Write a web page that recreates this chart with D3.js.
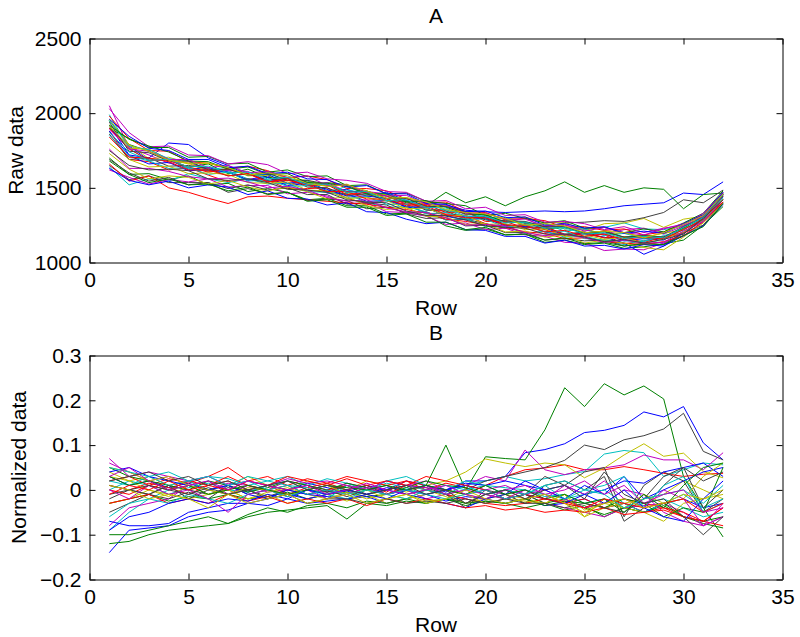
<!DOCTYPE html>
<html><head><meta charset="utf-8">
<script src="https://cdn.jsdelivr.net/npm/d3@7"></script>
<style>
html,body{margin:0;padding:0;background:#fff;}
text{font-family:"Liberation Sans",Arial,Helvetica,sans-serif;fill:#000;}
</style></head>
<body>
<svg id="chart" width="800" height="637"></svg>
<script>
const rows = [1,2,3,4,5,6,7,8,9,10,11,12,13,14,15,16,17,18,19,20,21,22,23,24,25,26,27,28,29,30,31,32];
const xTicks = [0,5,10,15,20,25,30,35];
const yTicksA = [1000,1500,2000,2500];
const yTicksB = [-0.2,-0.1,0,0.1,0.2,0.3];
const lineColors = ["#0000ff","#008000","#ff0000","#00bfbf","#bf00bf","#bfbf00","#404040"];

const rawData = [
[1900,1780,1685,1690,1625,1635,1605,1555,1580,1530,1545,1480,1490,1445,1470,1415,1375,1385,1350,1340,1335,1340,1345,1340,1345,1360,1380,1390,1400,1465,1455,1540],
[1950,1790,1745,1685,1640,1660,1595,1625,1570,1565,1515,1535,1520,1460,1445,1400,1380,1470,1400,1440,1380,1440,1480,1540,1470,1515,1470,1500,1490,1360,1455,1465],
[1880,1690,1675,1620,1635,1585,1540,1560,1550,1495,1495,1500,1430,1395,1415,1390,1330,1325,1315,1260,1230,1245,1220,1180,1195,1185,1125,1145,1170,1190,1300,1405],
[1990,1765,1680,1690,1630,1615,1615,1560,1540,1550,1540,1475,1485,1465,1410,1410,1355,1355,1300,1315,1275,1265,1260,1210,1225,1235,1265,1225,1220,1245,1305,1460],
[2050,1770,1720,1665,1675,1610,1615,1610,1545,1565,1520,1535,1475,1475,1460,1390,1400,1375,1320,1320,1265,1300,1230,1250,1220,1190,1220,1230,1190,1245,1310,1445],
[1960,1790,1695,1705,1665,1610,1630,1580,1585,1525,1540,1525,1465,1450,1455,1405,1370,1380,1325,1330,1290,1305,1265,1270,1215,1260,1265,1295,1235,1290,1310,1455],
[1650,1555,1580,1535,1535,1535,1470,1495,1460,1470,1415,1425,1415,1360,1370,1335,1340,1285,1290,1260,1230,1260,1240,1265,1270,1280,1275,1300,1335,1420,1400,1485],
[1920,1720,1700,1800,1790,1700,1650,1585,1590,1530,1535,1465,1460,1410,1415,1375,1370,1310,1285,1300,1250,1245,1205,1180,1200,1190,1145,1160,1150,1225,1285,1440],
[1700,1590,1595,1555,1580,1520,1530,1475,1495,1470,1420,1430,1380,1380,1325,1330,1315,1245,1215,1225,1185,1190,1135,1150,1120,1130,1095,1105,1125,1150,1250,1375],
[1980,1830,1750,1745,1675,1665,1630,1645,1615,1565,1580,1555,1495,1495,1480,1425,1400,1405,1340,1335,1285,1295,1280,1235,1240,1215,1225,1185,1205,1260,1315,1465],
[1640,1520,1560,1545,1595,1560,1535,1560,1525,1530,1475,1470,1460,1400,1370,1375,1340,1285,1295,1240,1240,1195,1210,1170,1175,1145,1120,1150,1130,1195,1285,1400],
[1620,1570,1525,1555,1540,1560,1505,1515,1515,1460,1470,1445,1395,1400,1340,1335,1310,1255,1265,1220,1230,1185,1175,1135,1130,1080,1090,1085,1130,1175,1270,1395],
[1920,1765,1760,1690,1660,1665,1640,1585,1610,1560,1550,1510,1525,1465,1425,1435,1385,1380,1335,1290,1295,1245,1260,1225,1230,1185,1200,1170,1195,1220,1330,1455],
[1690,1600,1545,1570,1520,1535,1495,1520,1485,1500,1455,1455,1390,1400,1385,1325,1295,1300,1245,1250,1200,1200,1150,1160,1145,1150,1110,1130,1120,1200,1250,1405],
[1880,1715,1660,1670,1615,1620,1605,1550,1570,1515,1530,1490,1445,1445,1430,1370,1365,1315,1310,1295,1245,1240,1230,1185,1190,1170,1130,1055,1110,1200,1280,1420],
[1900,1830,1770,1770,1705,1710,1660,1665,1605,1620,1575,1580,1515,1520,1460,1465,1410,1395,1380,1315,1330,1295,1265,1280,1230,1235,1200,1225,1205,1265,1330,1480],
[1660,1545,1580,1500,1470,1430,1395,1440,1445,1430,1420,1410,1400,1390,1370,1355,1330,1290,1275,1255,1235,1205,1195,1160,1165,1140,1130,1120,1140,1180,1275,1405],
[1950,1780,1755,1695,1680,1620,1640,1585,1595,1550,1550,1470,1510,1455,1465,1410,1410,1345,1340,1300,1305,1250,1260,1225,1225,1180,1195,1160,1170,1200,1305,1425],
[2030,1870,1775,1780,1720,1715,1660,1675,1655,1595,1605,1560,1550,1530,1475,1470,1410,1415,1360,1370,1315,1320,1270,1275,1260,1220,1240,1200,1230,1250,1330,1470],
[1730,1625,1560,1580,1570,1525,1550,1505,1480,1505,1475,1425,1440,1380,1355,1370,1310,1305,1255,1260,1205,1210,1170,1185,1130,1150,1130,1100,1085,1170,1265,1395],
[1860,1690,1700,1645,1650,1630,1580,1595,1550,1565,1505,1500,1450,1460,1415,1410,1350,1345,1290,1310,1255,1235,1240,1190,1205,1165,1170,1165,1165,1235,1300,1455],
[1630,1550,1520,1545,1500,1520,1505,1455,1480,1430,1425,1385,1400,1340,1335,1290,1260,1270,1220,1215,1175,1175,1130,1150,1110,1115,1090,1120,1110,1180,1245,1390],
[1920,1825,1780,1740,1680,1675,1625,1640,1590,1595,1535,1530,1510,1460,1460,1405,1415,1370,1325,1320,1270,1270,1225,1235,1200,1205,1170,1180,1170,1230,1305,1445],
[1900,1760,1685,1685,1640,1605,1625,1595,1540,1560,1515,1520,1455,1470,1445,1390,1390,1335,1340,1275,1275,1230,1240,1185,1195,1165,1170,1135,1170,1200,1300,1420],
[1850,1715,1680,1630,1635,1590,1605,1545,1555,1510,1515,1480,1430,1440,1390,1390,1325,1335,1290,1290,1235,1255,1205,1210,1160,1150,1145,1140,1180,1215,1305,1435],
[1890,1760,1745,1690,1690,1635,1650,1600,1610,1570,1580,1515,1520,1470,1445,1450,1390,1385,1330,1330,1290,1290,1245,1255,1210,1235,1200,1185,1225,1260,1310,1455],
[1800,1690,1640,1645,1595,1600,1590,1535,1530,1540,1485,1480,1430,1435,1415,1360,1365,1315,1315,1255,1260,1220,1225,1175,1185,1155,1170,1125,1160,1205,1280,1425],
[1940,1745,1735,1680,1680,1620,1625,1585,1600,1550,1550,1525,1470,1480,1430,1430,1375,1375,1340,1285,1280,1275,1240,1240,1195,1210,1170,1180,1170,1240,1300,1455],
[1960,1845,1765,1750,1690,1690,1635,1645,1595,1605,1560,1555,1505,1515,1460,1460,1395,1390,1340,1345,1300,1305,1250,1260,1230,1240,1195,1210,1195,1260,1320,1470],
[1680,1590,1535,1560,1520,1525,1480,1505,1455,1470,1410,1420,1370,1370,1315,1325,1270,1270,1220,1235,1185,1190,1150,1165,1125,1135,1110,1125,1120,1180,1240,1395],
[1840,1705,1700,1675,1620,1620,1580,1595,1540,1550,1520,1475,1475,1425,1425,1380,1380,1320,1300,1300,1250,1250,1205,1215,1175,1190,1155,1170,1160,1220,1290,1450],
[1870,1740,1685,1690,1640,1645,1600,1605,1560,1570,1520,1525,1470,1475,1415,1420,1370,1365,1310,1310,1265,1270,1230,1235,1190,1200,1160,1175,1165,1235,1300,1455],
[1760,1630,1630,1610,1575,1560,1565,1540,1500,1510,1485,1435,1410,1420,1365,1340,1335,1300,1250,1255,1245,1200,1180,1190,1165,1135,1150,1130,1135,1210,1275,1420],
[1910,1785,1745,1685,1665,1665,1635,1585,1600,1580,1530,1510,1520,1480,1430,1435,1405,1355,1335,1325,1295,1250,1260,1245,1200,1210,1200,1165,1200,1255,1315,1460],
[1750,1650,1620,1625,1615,1560,1550,1560,1535,1490,1485,1470,1420,1405,1400,1345,1315,1315,1285,1245,1235,1230,1190,1190,1170,1140,1155,1130,1155,1190,1295,1420]
];

const normData = [
[0.030,0.010,0.020,0.005,0.015,0.000,0.010,-0.005,0.010,0.000,0.015,0.005,-0.005,0.010,0.000,0.020,0.010,-0.005,0.020,0.020,0.030,0.083,0.090,0.103,0.128,0.133,0.144,0.174,0.163,0.186,0.105,0.067],
[-0.030,-0.020,-0.010,-0.025,-0.015,-0.020,-0.010,-0.020,-0.015,-0.005,-0.020,-0.010,-0.005,-0.015,-0.010,0.000,0.010,0.100,0.000,0.074,0.070,0.067,0.134,0.228,0.186,0.237,0.212,0.232,0.203,0.030,-0.040,-0.105],
[0.010,0.000,0.015,0.005,-0.010,0.010,0.020,0.000,0.010,-0.010,0.005,0.015,0.000,0.010,-0.005,0.020,0.010,0.000,-0.010,0.010,0.030,0.045,0.049,0.056,0.045,0.045,0.052,0.045,0.037,0.030,0.035,0.037],
[0.000,0.020,0.010,-0.010,0.005,0.015,0.000,-0.005,0.010,0.020,0.000,-0.010,0.010,0.000,0.015,0.005,-0.010,0.000,0.010,0.020,0.030,0.020,0.025,0.034,0.041,0.080,0.088,0.083,0.030,0.045,0.060,0.056],
[0.060,0.040,0.020,0.030,0.010,0.020,-0.010,0.010,0.000,0.020,0.010,-0.005,0.015,0.005,0.000,0.010,0.020,0.000,0.010,0.030,0.020,0.089,0.045,0.034,0.045,0.049,0.056,0.078,0.067,0.067,0.045,0.083],
[0.040,0.020,0.030,0.010,0.020,0.000,0.010,0.030,0.010,0.000,0.020,0.010,0.000,0.020,0.010,-0.005,0.010,0.020,0.040,0.069,0.060,0.052,0.060,0.056,0.027,0.049,0.078,0.103,0.075,0.082,0.041,0.027],
[-0.020,0.000,-0.010,0.010,0.000,-0.010,0.005,0.000,-0.015,0.000,0.010,-0.005,0.000,0.010,-0.010,0.000,0.010,-0.010,0.000,0.020,0.030,0.040,0.050,0.066,0.100,0.090,0.112,0.121,0.136,0.171,0.086,0.067],
[-0.140,-0.090,-0.085,-0.080,-0.060,-0.050,-0.045,-0.030,-0.035,-0.020,-0.030,-0.025,-0.020,-0.015,-0.030,-0.020,-0.010,-0.025,-0.015,-0.020,-0.030,-0.020,-0.035,-0.030,-0.020,-0.040,-0.030,-0.050,-0.030,-0.020,-0.040,-0.030],
[-0.120,-0.115,-0.100,-0.090,-0.085,-0.080,-0.075,-0.060,-0.050,-0.045,-0.040,-0.035,-0.065,-0.030,-0.035,-0.025,-0.030,-0.020,-0.035,-0.025,-0.030,-0.040,-0.030,-0.045,-0.035,-0.060,-0.040,-0.050,-0.035,-0.060,-0.075,-0.085],
[0.020,0.030,0.010,0.025,0.015,0.030,0.050,0.020,0.030,0.010,0.025,0.015,0.030,0.020,0.010,0.020,0.000,0.015,0.005,-0.010,0.000,-0.020,-0.010,-0.030,-0.020,-0.040,-0.030,-0.050,-0.040,-0.060,-0.070,-0.080],
[-0.090,-0.050,-0.020,0.000,0.020,0.030,0.025,0.010,0.020,0.030,0.010,0.025,0.015,0.000,0.020,0.030,0.010,0.000,0.020,0.010,-0.010,0.000,-0.015,-0.010,-0.030,-0.020,-0.040,-0.030,-0.020,-0.040,-0.060,-0.050],
[-0.080,-0.040,-0.030,-0.020,0.010,0.000,0.015,0.010,-0.005,0.000,0.010,0.000,-0.010,0.005,-0.010,0.000,-0.020,-0.010,-0.020,-0.030,-0.020,-0.010,-0.030,-0.040,-0.050,-0.060,-0.040,-0.035,-0.030,-0.050,-0.080,-0.060],
[0.030,0.020,0.000,-0.010,-0.020,-0.010,0.000,-0.020,-0.010,-0.030,-0.020,-0.010,-0.025,-0.010,-0.030,-0.020,-0.010,0.000,-0.010,-0.020,-0.010,-0.030,-0.020,-0.030,-0.060,-0.040,-0.030,-0.020,-0.010,0.020,0.000,-0.020],
[-0.050,-0.030,-0.010,-0.020,-0.005,-0.020,0.010,-0.010,0.000,-0.015,0.000,-0.005,0.010,-0.010,0.000,0.010,0.005,-0.010,-0.030,-0.010,0.000,-0.010,0.030,0.010,0.040,0.050,-0.060,0.010,0.040,0.020,-0.050,-0.020],
[-0.070,-0.080,-0.080,-0.075,-0.050,-0.040,-0.030,-0.030,-0.020,-0.010,-0.020,-0.010,0.000,-0.010,0.005,0.000,0.010,0.000,0.015,0.010,0.020,0.010,0.000,0.010,-0.010,0.000,0.020,0.015,0.040,0.050,0.060,0.030],
[0.050,0.030,0.020,0.010,0.000,0.020,0.010,-0.005,0.005,0.020,0.010,0.000,0.015,0.005,-0.010,0.005,0.020,0.010,0.005,-0.010,-0.020,-0.010,-0.030,-0.020,-0.040,-0.055,-0.040,-0.050,-0.030,-0.060,-0.070,-0.060],
[0.000,-0.010,0.010,0.000,0.020,0.010,0.030,0.010,0.000,0.010,-0.010,0.000,0.010,0.000,-0.010,0.010,0.000,-0.010,-0.020,-0.030,-0.035,-0.030,-0.020,-0.025,-0.040,-0.030,-0.020,-0.030,-0.040,-0.050,-0.070,-0.040],
[0.020,0.010,0.030,0.010,0.020,0.000,0.010,0.030,0.020,0.010,0.005,-0.020,0.010,0.000,0.020,0.010,0.000,0.010,0.000,0.010,0.005,0.000,-0.010,-0.020,-0.010,0.000,-0.030,-0.050,-0.030,-0.010,-0.040,-0.020],
[0.070,0.030,0.040,0.030,0.020,0.030,0.010,0.020,0.010,0.025,0.015,0.020,0.010,0.000,0.020,0.010,0.005,0.000,-0.010,0.000,0.010,-0.010,0.000,-0.020,-0.040,-0.030,0.000,-0.010,-0.050,-0.070,-0.080,-0.060],
[-0.030,-0.020,0.000,-0.015,0.010,-0.010,0.000,-0.020,-0.005,0.005,-0.010,-0.020,-0.005,-0.020,-0.010,-0.020,0.000,-0.015,-0.030,-0.020,-0.010,-0.020,-0.030,-0.010,-0.045,-0.030,-0.040,-0.050,-0.070,-0.030,-0.020,-0.010],
[0.010,0.000,-0.010,0.010,-0.020,0.000,-0.010,0.000,0.010,0.000,-0.010,0.000,-0.015,0.000,0.010,-0.010,0.000,-0.010,-0.040,0.000,-0.010,-0.030,0.010,0.020,0.000,0.030,-0.070,-0.040,0.010,0.050,-0.040,0.000],
[0.040,0.050,0.030,0.020,0.010,0.000,0.010,-0.010,-0.020,0.000,-0.010,-0.015,-0.020,-0.010,0.000,-0.010,-0.020,-0.030,-0.040,-0.020,-0.010,0.020,0.000,-0.020,0.010,-0.010,0.030,-0.020,0.000,0.020,0.040,0.050],
[-0.100,-0.100,-0.090,-0.080,-0.070,-0.060,-0.075,-0.055,-0.040,-0.050,-0.035,-0.030,-0.040,-0.025,-0.030,-0.020,-0.030,-0.020,-0.030,-0.025,-0.030,-0.020,-0.035,-0.025,-0.030,-0.040,-0.020,-0.030,-0.060,-0.040,-0.050,0.050],
[-0.030,-0.020,-0.010,-0.030,-0.020,-0.030,-0.010,-0.025,-0.015,-0.030,-0.020,-0.030,-0.020,-0.035,-0.020,-0.030,-0.020,-0.030,-0.040,-0.035,-0.045,-0.040,-0.050,-0.045,-0.050,-0.040,-0.055,-0.050,-0.045,-0.060,-0.070,-0.040],
[-0.060,-0.030,-0.020,-0.030,-0.010,-0.020,-0.030,-0.010,0.000,-0.015,0.000,-0.010,-0.020,0.000,-0.010,-0.020,0.000,-0.010,0.010,-0.010,0.000,-0.010,0.010,0.020,0.000,0.010,0.030,-0.040,0.010,0.030,-0.050,-0.030],
[0.000,-0.020,0.010,-0.010,0.000,-0.020,-0.050,-0.010,0.000,-0.010,0.000,-0.020,-0.010,0.005,-0.010,0.000,0.010,-0.010,0.000,-0.010,-0.020,0.000,-0.020,0.010,-0.010,0.020,-0.020,-0.040,0.000,-0.020,-0.080,-0.030],
[0.050,0.040,0.020,0.030,0.010,0.000,-0.010,0.005,0.000,-0.010,0.000,0.010,-0.010,0.000,-0.020,-0.010,-0.025,-0.020,-0.010,-0.030,-0.020,-0.025,-0.030,-0.010,-0.060,-0.020,-0.040,-0.010,-0.030,-0.020,0.030,0.060],
[-0.010,0.000,0.010,0.000,-0.010,0.005,-0.010,0.000,-0.020,-0.010,-0.030,-0.020,-0.020,-0.030,-0.020,-0.030,-0.025,-0.030,-0.020,-0.030,-0.020,-0.030,-0.030,-0.040,-0.030,-0.040,-0.050,-0.020,0.030,0.050,0.020,0.040],
[-0.090,-0.060,-0.050,-0.030,-0.020,-0.030,-0.020,-0.025,-0.010,-0.020,0.000,-0.010,0.000,-0.010,-0.020,0.000,-0.010,0.000,0.010,0.000,-0.020,-0.010,-0.020,-0.030,-0.010,-0.030,0.000,-0.040,-0.060,-0.070,-0.020,0.020],
[0.030,0.010,0.020,0.000,0.010,-0.010,0.000,0.010,0.000,-0.010,0.000,0.010,0.005,0.000,0.010,0.000,0.010,0.000,-0.010,0.010,-0.010,0.000,-0.020,-0.010,-0.030,-0.020,-0.050,-0.010,-0.040,0.010,0.050,0.060],
[-0.010,0.010,0.000,0.020,0.000,0.010,0.000,0.020,0.010,0.030,0.020,0.010,0.025,0.010,0.020,0.010,0.030,0.020,0.010,0.000,-0.020,-0.010,-0.020,-0.030,-0.040,-0.020,-0.030,-0.040,-0.030,-0.020,-0.050,-0.030],
[0.050,0.040,0.030,0.040,0.020,0.030,0.010,0.020,0.000,0.010,-0.010,0.000,-0.010,0.000,-0.010,0.000,-0.010,-0.020,-0.010,0.000,-0.020,-0.010,0.010,-0.020,0.000,-0.010,-0.040,-0.020,-0.010,0.000,-0.030,0.010],
[0.030,0.050,0.020,0.000,0.010,0.020,0.000,0.020,0.010,0.000,0.010,-0.010,0.000,0.015,0.000,-0.010,0.000,0.010,-0.010,-0.020,0.000,0.010,-0.010,0.000,0.020,-0.010,0.010,-0.030,-0.010,0.000,-0.050,-0.040],
[0.010,0.000,-0.020,-0.010,-0.020,-0.040,-0.010,-0.030,-0.020,-0.010,-0.030,-0.020,-0.010,-0.030,-0.020,-0.010,-0.030,-0.020,0.000,-0.020,-0.030,-0.020,-0.010,-0.030,-0.050,-0.030,-0.020,-0.040,-0.030,-0.010,-0.020,0.000],
[0.020,0.030,0.040,0.020,0.030,0.010,0.020,0.000,0.010,0.020,0.000,0.010,0.000,-0.010,0.000,0.010,-0.010,0.000,-0.030,-0.010,0.000,-0.020,0.000,0.010,-0.020,0.040,-0.010,-0.030,-0.020,-0.060,-0.100,-0.060]
];

const svg = d3.select("#chart");
svg.append("rect").attr("width",800).attr("height",637).attr("fill","#fff");

const FS = 21;
const x = d3.scaleLinear().domain([0,35]).range([89.5,782.5]);

function panel(opts){
  const {top, bottom, ydomain, yticks, data, title, ylabel, ylabelX, fmt} = opts;
  const y = d3.scaleLinear().domain(ydomain).range([bottom, top]);
  const g = svg.append("g");

  const line = d3.line().x((d,i)=>x(rows[i])).y(d=>y(d));
  g.append("g").selectAll("path").data(data).join("path")
    .attr("d", line)
    .attr("fill","none")
    .attr("stroke",(d,i)=>lineColors[i%lineColors.length])
    .attr("stroke-width",1)
    .attr("stroke-linejoin","miter");

  const ax = [
    g.append("g").attr("transform",`translate(0,${bottom})`)
      .call(d3.axisBottom(x).tickValues(xTicks).tickSizeInner(-6).tickSizeOuter(0).tickPadding(10).tickFormat(d3.format("d"))),
    g.append("g").attr("transform",`translate(0,${top})`)
      .call(d3.axisTop(x).tickValues(xTicks).tickSizeInner(-6).tickSizeOuter(0).tickFormat("")),
    g.append("g").attr("transform",`translate(${x.range()[0]},0)`)
      .call(d3.axisLeft(y).tickValues(yticks).tickSizeInner(-6).tickSizeOuter(0).tickPadding(8).tickFormat(fmt)),
    g.append("g").attr("transform",`translate(${x.range()[1]},0)`)
      .call(d3.axisRight(y).tickValues(yticks).tickSizeInner(-6).tickSizeOuter(0).tickFormat(""))
  ];
  ax.forEach(a=>{
    a.selectAll(".domain").attr("stroke","#000").attr("stroke-width",1);
    a.selectAll(".tick line").attr("stroke","#000").attr("stroke-width",1);
    a.selectAll("text").attr("font-size",FS).attr("font-family","Liberation Sans, Arial, sans-serif").attr("fill","#000");
  });

  const cx = (x.range()[0]+x.range()[1])/2;
  g.append("text").attr("x",cx).attr("y",top-23).attr("dy","0.35em")
    .attr("text-anchor","middle").attr("font-size",FS).text(title);
  g.append("text").attr("x",cx).attr("y",bottom+45).attr("dy","0.35em")
    .attr("text-anchor","middle").attr("font-size",FS).text("Row");
  g.append("text").attr("transform",`translate(${ylabelX},${(top+bottom)/2}) rotate(-90)`)
    .attr("dy","0.35em").attr("text-anchor","middle").attr("font-size",FS).text(ylabel);
}

const minus = s => s.replace("-","\u2212");
panel({top:38.5,bottom:262.5,ydomain:[1000,2500],yticks:yTicksA,data:rawData,title:"A",ylabel:"Raw data",ylabelX:16,fmt:d3.format("d")});
panel({top:355.5,bottom:579.5,ydomain:[-0.2,0.3],yticks:yTicksB,data:normData,title:"B",ylabel:"Normalized data",ylabelX:19,fmt:d=>minus(d3.format("")(+d.toFixed(1)))});
</script>
</body></html>
